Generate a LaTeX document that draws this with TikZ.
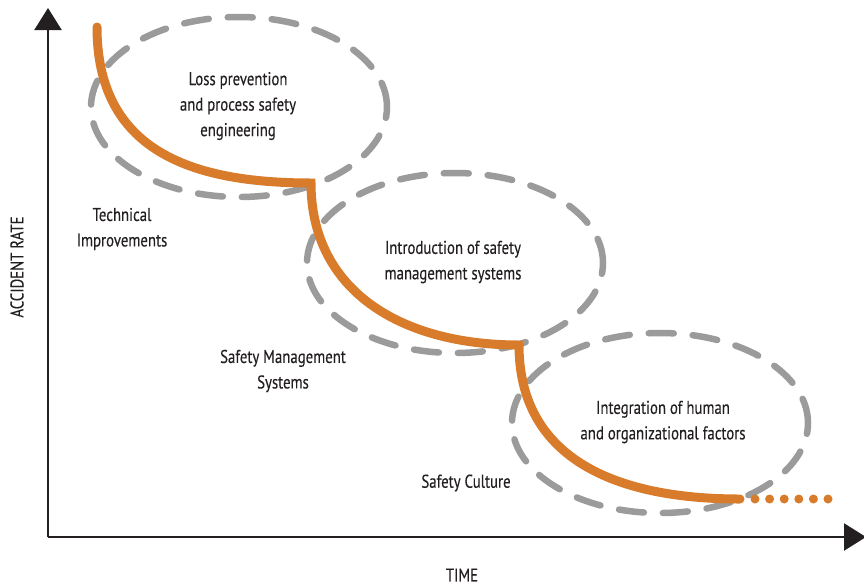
\documentclass[tikz,border=0pt]{standalone}
\usepackage{fontspec}
\setmainfont{PT Sans}[FakeStretch=0.8,UprightFeatures={FakeBold=0.25}]
\usetikzlibrary{arrows.meta,shapes.geometric}
\definecolor{axisc}{RGB}{35,31,32}
\definecolor{orangec}{RGB}{216,124,44}
\definecolor{grayc}{RGB}{155,155,155}
\tikzset{
  lbl/.style={text=axisc,align=center,font=\fontsize{18.5}{25.5}\selectfont,inner sep=0pt},
  axisline/.style={draw=axisc,line width=2.4pt,-{Triangle[width=27pt,length=22pt]}},
  phase/.style={ellipse,draw=grayc,line width=6.5pt,line cap=round,
    dash pattern=on 25pt off 19pt,minimum width=296pt,minimum height=180pt,inner sep=0pt},
  curve/.style={draw=orangec,line width=9pt,line cap=round,line join=miter},
  dotline/.style={draw=orangec,line width=9pt,line cap=round,dash pattern=on 0pt off 14.6pt}
}
\begin{document}
\begin{tikzpicture}[x=1pt,y=-1pt]
\useasboundingbox (0,0) rectangle (864,587);
% axes
\coordinate (O) at (48,537);
\coordinate (ytop) at (48,8);
\coordinate (xend) at (866,537);
\draw[axisline] (O) -- (ytop);
\draw[axisline] (O) -- (xend);
% ellipses
\node[phase] (e1) at (239,107) {};
\node[phase] (e2) at (455,263) {};
\node[phase] (e3) at (660,423) {};
% curve
\coordinate (c0) at (97,27);
\coordinate (c1) at (311,183);
\coordinate (c2) at (519,345);
\coordinate (c3) at (740,499);
\draw[curve] (c0) .. controls (97,150) and (190,183) .. (c1)
  .. controls (311,290) and (400,345) .. (c2)
  .. controls (519,455) and (610,499) .. (c3);
\coordinate (d0) at (755,499);
\coordinate (d1) at (830,499);
\draw[dotline] (d0) -- (d1);
% labels
\node[lbl] (t1) at (238,106) {Loss prevention\\and process safety\\engineering};
\node[lbl] (t2) at (453,262) {Introduction of safety\\management systems};
\node[lbl] (t3) at (663,422) {Integration of human\\and organizational factors};
\node[lbl] (s1) at (122,229) {Technical\\Improvements};
\node[lbl] (s2) at (283,371) {Safety Management\\Systems};
\node[lbl] (s3) at (466,483) {Safety Culture};
\node[lbl,rotate=90] (ya) at (17,267) {ACCIDENT RATE};
\node[lbl] (xa) at (462,575) {TIME};
\end{tikzpicture}
\end{document}
